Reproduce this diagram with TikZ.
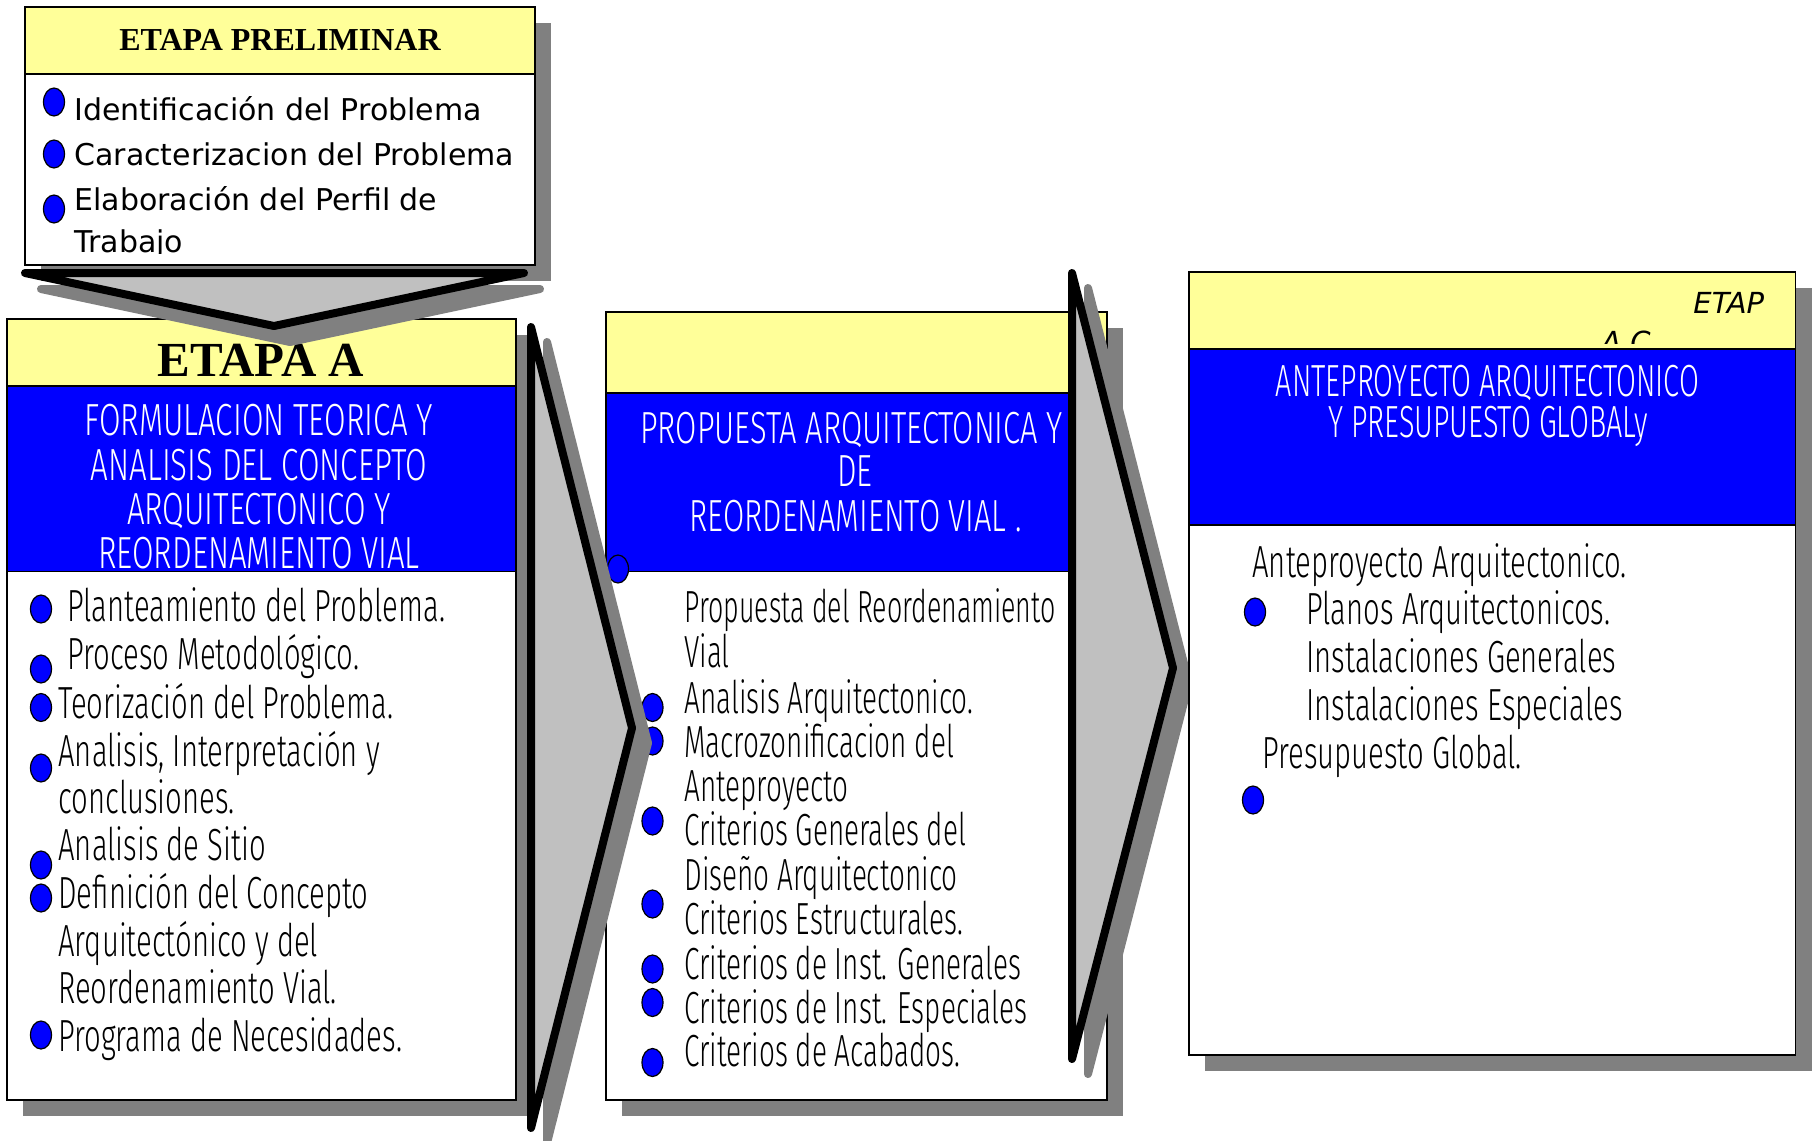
\documentclass[tikz,border=0pt]{standalone}
\usepackage{fontspec}
\usetikzlibrary{shapes.geometric}
\newfontfamily\thinA{Fira Sans Light}[FakeStretch=0.65]
\newfontfamily\thinB{Fira Sans Light}[FakeStretch=0.62]
\newfontfamily\thinBB{Fira Sans Light}[FakeStretch=0.595]
\newfontfamily\headAf{Fira Sans Light}[FakeStretch=0.695]
\newfontfamily\headBf{Fira Sans Light}[FakeStretch=0.685]
\newfontfamily\headCf{Fira Sans Light}[FakeStretch=0.64]
\newfontfamily\comicf{DejaVu Sans}
\newfontfamily\timesf{Liberation Serif}
\definecolor{ylw}{HTML}{FFFF99}
\definecolor{blu}{HTML}{0000FF}
\definecolor{shd}{HTML}{808080}
\definecolor{lgr}{HTML}{C0C0C0}
\newcommand\myBodyA{\thinA\fontsize{22.5}{27}\selectfont}
\newcommand\myBodyB{\thinB\fontsize{22.5}{27}\selectfont}
\newcommand\myBodyBB{\thinBB\fontsize{22.5}{27}\selectfont}
\newcommand\myHeadA{\headAf\fontsize{22.5}{27}\selectfont}
\newcommand\myHeadB{\headBf\fontsize{22.5}{27}\selectfont}
\newcommand\myHeadC{\headCf\fontsize{22.5}{27}\selectfont}
\newcommand\myPrel{\comicf\fontsize{15}{18}\selectfont}
\begin{document}
\begin{tikzpicture}[x=0.5pt,y=-0.5pt,
  body/.style={anchor=base west, inner sep=0pt, font=\myBodyA},
  bodyb/.style={anchor=base west, inner sep=0pt, font=\myBodyB},
  head/.style={anchor=base, inner sep=0pt, text=white},
  prel/.style={anchor=base west, inner sep=0pt, font=\myPrel},
  bul/.style={ellipse, draw=black, line width=0.6pt, fill=blu, minimum width=10.5pt, minimum height=14pt, inner sep=0pt},
  frame/.style={draw=black, line width=0.75pt},
  tri/.style={fill=lgr, draw=black, line width=4pt, line join=round},
  trish/.style={fill=shd, draw=shd, line width=4pt, line join=round}]
\useasboundingbox[fill=white] (0,0) rectangle (1814,1140);

% ---------- ETAPA PRELIMINAR ----------
\fill[shd] (41,23) rectangle (551,281);
\fill[white] (25,7) rectangle (535,265);
\fill[ylw] (25,7) rectangle (535,74);
\draw[frame] (25,74) -- (535,74);
\draw[frame] (25,7) rectangle (535,265);
\node[anchor=base, inner sep=0pt, font=\timesf\bfseries\fontsize{16}{19}\selectfont] (tprel) at (280,50.5) {ETAPA PRELIMINAR};
\node[bul] (pb1) at (54,102) {};
\node[bul] (pb2) at (54,154) {};
\node[bul] (pb3) at (54,209) {};
\node[prel] (p1) at (74,120) {Identificación del Problema};
\node[prel] (p2) at (74,165) {Caracterizacion del Problema};
\node[prel] (p3) at (74,210) {Elaboración del Perfil de};
\begin{scope}
\clip (25,74) rectangle (535,253);
\node[prel] (p4) at (74,252) {Trabajo};
\end{scope}

% ---------- ETAPA A ----------
\fill[shd] (23,335) rectangle (532,1116);
\fill[white] (7,319) rectangle (516,1100);
\fill[ylw] (7,319) rectangle (516,386);
\fill[blu] (7,386) rectangle (516,571.5);
\draw[frame] (7,386) -- (516,386);
\draw[frame] (7,571.5) -- (516,571.5);
\draw[frame] (7,319) rectangle (516,1100);
\node[anchor=base, inner sep=0pt, font=\timesf\bfseries\fontsize{24.5}{29}\selectfont] (ta) at (261,376.5) {ETAPA A};
\node[head, font=\myHeadA] (ha1) at (259,435.5) {FORMULACION TEORICA Y};
\node[head, font=\myHeadA] (ha2) at (259,480.5) {ANALISIS DEL CONCEPTO};
\node[head, font=\myHeadA] (ha3) at (259,524.5) {ARQUITECTONICO Y};
\node[head, font=\myHeadA] (ha4) at (259,568.5) {REORDENAMIENTO VIAL};
\node[bul] (ab1) at (41,609) {};
\node[bul] (ab2) at (41,669) {};
\node[bul] (ab3) at (41,707.5) {};
\node[bul] (ab4) at (41,768) {};
\node[bul] (ab5) at (41,865) {};
\node[bul] (ab6) at (41,898) {};
\node[bul] (ab7) at (41,1035) {};
\node[body] (a1) at (67,621) {Planteamiento del Problema.};
\node[body] (a2) at (67,669) {Proceso Metodológico.};
\node[body] (a3) at (58,718) {Teorización del Problema.};
\node[body] (a4) at (58,766) {Analisis, Interpretación y};
\node[body] (a5) at (58,813) {conclusiones.};
\node[body] (a6) at (58,860) {Analisis de Sitio};
\node[body] (a7) at (58,908) {Definición del Concepto};
\node[body] (a8) at (58,956) {Arquitectónico y del};
\node[body] (a9) at (58,1003) {Reordenamiento Vial.};
\node[body] (a10) at (58,1051) {Programa de Necesidades.};

% ---------- ETAPA B ----------
\fill[shd] (622,328) rectangle (1123,1116);
\fill[white] (606,312) rectangle (1107,1100);
\fill[ylw] (606,312) rectangle (1107,393);
\fill[blu] (606,393) rectangle (1107,571.5);
\draw[frame] (606,393) -- (1107,393);
\draw[frame] (606,571.5) -- (1107,571.5);
\draw[frame] (606,312) rectangle (1107,1100);
\node[head, font=\myHeadB] (hb1) at (851.5,443) {PROPUESTA ARQUITECTONICA Y};
\node[head, font=\myHeadB] (hb2) at (855,486) {DE};
\node[head, font=\myHeadB] (hb3) at (855.5,531) {REORDENAMIENTO VIAL .};
\node[bul] (bb0) at (618,569) {};
\node[bul] (bb1) at (652.5,707.5) {};
\node[bul] (bb2) at (652.5,741) {};
\node[bul] (bb3) at (652.5,821) {};
\node[bul] (bb4) at (652.5,904) {};
\node[bul] (bb5) at (652.5,969) {};
\node[bul] (bb6) at (652.5,1002.5) {};
\node[bul] (bb7) at (652.5,1062.5) {};
\node[bodyb, font=\myBodyBB] (b1) at (684,622) {Propuesta del Reordenamiento};
\node[bodyb] (b2) at (684,667) {Vial};
\node[bodyb] (b3) at (684,713) {Analisis Arquitectonico.};
\node[bodyb] (b4) at (684,757) {Macrozonificacion del};
\node[bodyb] (b5) at (684,801) {Anteproyecto};
\node[bodyb] (b6) at (684,845) {Criterios Generales del};
\node[bodyb] (b7) at (684,890) {Diseño Arquitectonico};
\node[bodyb] (b8) at (684,934) {Criterios Estructurales.};
\node[bodyb] (b9) at (684,979) {Criterios de Inst. Generales};
\node[bodyb] (b10) at (684,1023) {Criterios de Inst. Especiales};
\node[bodyb] (b11) at (684,1066) {Criterios de Acabados.};

% ---------- chevrons ----------
\filldraw[trish] (41,289) -- (540,289) -- (290,342) -- cycle;
\filldraw[tri] (25,273) -- (524,273) -- (274,326) -- cycle;
\filldraw[trish] (547,342) -- (648,743) -- (547,1143) -- cycle;
\filldraw[tri] (531,327) -- (632,728) -- (531,1128) -- cycle;
\filldraw[trish] (1088,288) -- (1189,683) -- (1088,1074) -- cycle;
\filldraw[tri] (1072,273) -- (1173,668) -- (1072,1059) -- cycle;

% ---------- ETAPA C ----------
\fill[shd] (1205,288) rectangle (1811.5,1071);
\fill[white] (1189,272) rectangle (1795.5,1055);
\fill[ylw] (1189,272) rectangle (1795.5,349);
\node[anchor=base west, inner sep=0pt, font=\comicf\itshape\fontsize{14.5}{17}\selectfont] (etc1) at (1693,313) {ETAP};
\begin{scope}
\clip (1189,272) rectangle (1795.5,343);
\node[anchor=base west, inner sep=0pt, font=\comicf\itshape\fontsize{14.5}{17}\selectfont] (etc2) at (1601,352) {A C};
\end{scope}
\fill[blu] (1189,349) rectangle (1795.5,525);
\draw[frame] (1189,349) -- (1795.5,349);
\draw[frame] (1189,525) -- (1795.5,525);
\draw[frame] (1189,272) rectangle (1795.5,1055);
\node[head, font=\myHeadC] (hc1) at (1487.5,396) {ANTEPROYECTO ARQUITECTONICO};
\node[head, font=\myHeadC] (hc2) at (1488,437) {Y PRESUPUESTO GLOBALy};
\node[bul] (cb1) at (1255,612) {};
\node[bul] (cb2) at (1253,800) {};
\node[body] (c1) at (1252,577) {Anteproyecto Arquitectonico.};
\node[body] (c2) at (1306,624) {Planos Arquitectonicos.};
\node[body] (c3) at (1306,672) {Instalaciones Generales};
\node[body] (c4) at (1306,720) {Instalaciones Especiales};
\node[body] (c5) at (1262,768) {Presupuesto Global.};
\end{tikzpicture}
\end{document}
